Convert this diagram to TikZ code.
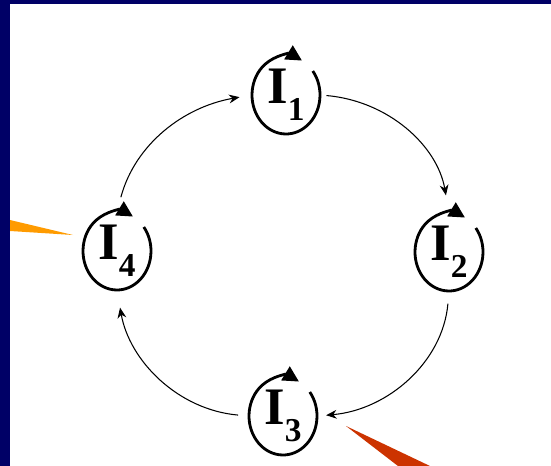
\documentclass[tikz,border=0pt]{standalone}
\usepackage{fontspec}
\setmainfont{Liberation Serif}
\usetikzlibrary{arrows.meta,shapes.geometric}
\definecolor{slidenavy}{RGB}{0,0,102}
\definecolor{calloutorange}{RGB}{255,155,0}
\definecolor{calloutred}{RGB}{204,51,0}
\newcommand{\statename}[1]{I\raisebox{-9.5pt}{\fontsize{19}{20}\selectfont #1}}

\begin{document}
\begin{tikzpicture}[
  x=0.02cm, y=-0.02cm,      % one unit is one pixel of the slide, y runs down
  state/.style    = {ellipse, inner sep=0pt, minimum width=1.36cm,
                     minimum height=1.56cm,
                     font=\fontsize{30}{32}\selectfont\bfseries},
  selfloop/.style = {line width=1.6pt, -{Triangle[length=9pt,width=9pt]}},
                     % the ring round a state, left open at the top right
  link/.style     = {line width=0.6pt, -{Stealth[length=6pt,width=5pt]}},
  callout/.style  = {draw=none},
]
  \useasboundingbox (0,0) rectangle (551,466);
  \fill[slidenavy] (0,0) rectangle (551,4);
  \fill[slidenavy] (0,0) rectangle (10,466);

  \node[state] (i1) at (286,95)  {\statename{1}};
  \node[state] (i2) at (449,252) {\statename{2}};
  \node[state] (i3) at (283,416) {\statename{3}};
  \node[state] (i4) at (117,251) {\statename{4}};

  % the loop at each state: it ends in a head just before the gap
  \foreach \s in {i1,i2,i3,i4}
    \draw[selfloop] ([shift={(38:0.68cm and 0.78cm)}]\s.center)
      arc[start angle=38, end angle=-298, x radius=0.68cm, y radius=0.78cm];

  % the ring, clockwise
  \draw[link, shorten <=3.5pt, shorten >=10pt] (i1.east) to[out=-5,in=100] (i2.north);
  \draw[link, shorten <=7pt, shorten >=5pt] (i2.south) to[out=-95,in=5] (i3.east);
  \draw[link, shorten <=6pt, shorten >=10pt] (i3.west) to[out=175,in=-80] (i4.south);
  \draw[link, shorten <=8.5pt, shorten >=7pt] (i4.north) to[out=75,in=190] (i1.west);

  % tips of the two callouts that come in from off the slide
  \fill[calloutorange, callout] (10,220) -- (73,235) -- (10,231) -- cycle;
  \fill[calloutred, callout] (346,426) -- (430,466) -- (398,466) -- cycle;
\end{tikzpicture}
\end{document}
